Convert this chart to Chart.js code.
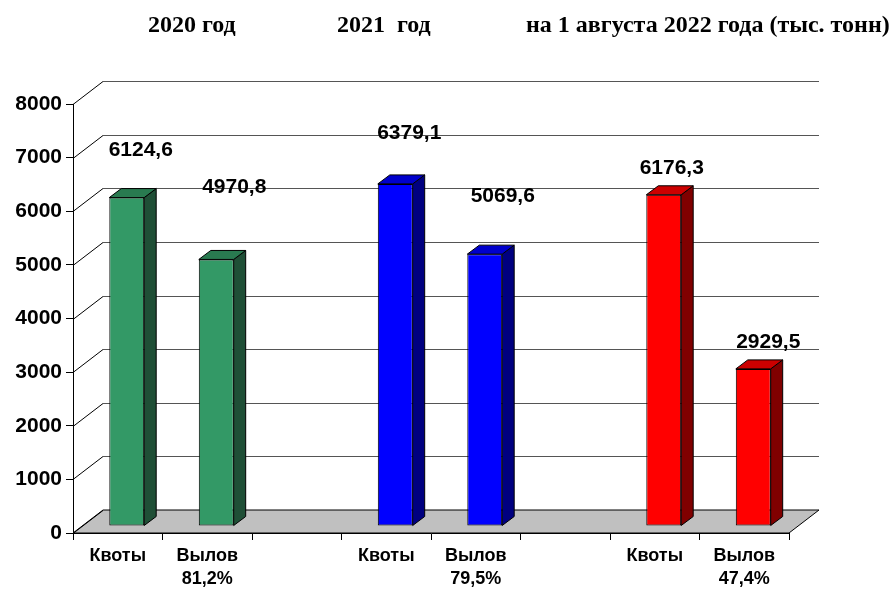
<!DOCTYPE html>
<html>
<head>
<meta charset="utf-8">
<script src="https://cdn.jsdelivr.net/npm/chart.js@4"></script>
<style>
html,body{margin:0;padding:0;background:#fff;}
#wrap{width:893px;height:589px;position:relative;}
</style>
</head>
<body>
<div id="wrap"><canvas id="c" width="893" height="589"></canvas></div>
<script>
// ---- data ----
const categories = [['Квоты'], ['Вылов', '81,2%'], '', ['Квоты'], ['Вылов', '79,5%'], '', ['Квоты'], ['Вылов', '47,4%']];
const values = [6124.6, 4970.8, null, 6379.1, 5069.6, null, 6176.3, 2929.5];
const yTicks = [0, 1000, 2000, 3000, 4000, 5000, 6000, 7000, 8000];
const titleParts = ['2020 год', '2021  год', 'на 1 августа 2022 года (тыс. тонн)'];

// ---- styles ----
const frontColors = ['#339966', '#339966', '#fff', '#0000FF', '#0000FF', '#fff', '#FF0000', '#FF0000'];
const topColors   = ['#297A50', '#297A50', '#fff', '#0000CC', '#0000CC', '#fff', '#CC0000', '#CC0000'];
const sideColors  = ['#1F4F36', '#1F4F36', '#fff', '#000080', '#000080', '#fff', '#800000', '#800000'];
const labelShift = [[14, -47], [18, -72], [0, 0], [14, -51], [18, -58], [0, 0], [8, -27], [15, -27]];
const titleX = [148, 337, 526];

const WALL_DX = 30, WALL_DY = -23;   // depth of chart floor/walls
const BAR_OX = 9, BAR_OY = -7;       // bar position inside depth
const BAR_DX = 12, BAR_DY = -9;      // bar depth

const threeD = {
  id: 'threeD',
  beforeDatasetsDraw(chart) {
    const ctx = chart.ctx, ca = chart.chartArea, ys = chart.scales.y;
    const y0 = ys.getPixelForValue(0);
    ctx.save();
    // floor
    ctx.beginPath();
    ctx.moveTo(ca.left, y0);
    ctx.lineTo(ca.right, y0);
    ctx.lineTo(ca.right + WALL_DX, y0 + WALL_DY);
    ctx.lineTo(ca.left + WALL_DX, y0 + WALL_DY);
    ctx.closePath();
    ctx.fillStyle = '#C0C0C0';
    ctx.fill();
    ctx.lineWidth = 1;
    ctx.strokeStyle = '#000';
    ctx.stroke();
    // back-wall gridlines and left-wall diagonals
    yTicks.forEach(v => {
      const y = Math.round(ys.getPixelForValue(v)) + 0.5;
      ctx.beginPath();
      ctx.strokeStyle = '#000';
      ctx.moveTo(ca.left, y);
      ctx.lineTo(ca.left + WALL_DX, y + WALL_DY);
      ctx.stroke();
      if (v > 0) {
        ctx.beginPath();
        ctx.strokeStyle = '#555';
        ctx.moveTo(ca.left + WALL_DX, y + WALL_DY);
        ctx.lineTo(ca.right + WALL_DX, y + WALL_DY);
        ctx.stroke();
      }
    });
    ctx.restore();
    ctx.save();
    ctx.translate(BAR_OX, BAR_OY);
  },
  afterDatasetsDraw(chart) {
    const ctx = chart.ctx;
    ctx.restore();
    const meta = chart.getDatasetMeta(0);
    ctx.save();
    ctx.translate(BAR_OX, BAR_OY);
    ctx.lineWidth = 1;
    ctx.strokeStyle = '#000';
    meta.data.forEach((bar, i) => {
      if (values[i] == null) return;
      const p = bar.getProps(['x', 'y', 'base', 'width'], true);
      const l = p.x - p.width / 2, r = p.x + p.width / 2;
      // side
      ctx.beginPath();
      ctx.moveTo(r, p.y);
      ctx.lineTo(r + BAR_DX, p.y + BAR_DY);
      ctx.lineTo(r + BAR_DX, p.base + BAR_DY);
      ctx.lineTo(r, p.base);
      ctx.closePath();
      ctx.fillStyle = sideColors[i];
      ctx.fill(); ctx.stroke();
      // top
      ctx.beginPath();
      ctx.moveTo(l, p.y);
      ctx.lineTo(l + BAR_DX, p.y + BAR_DY);
      ctx.lineTo(r + BAR_DX, p.y + BAR_DY);
      ctx.lineTo(r, p.y);
      ctx.closePath();
      ctx.fillStyle = topColors[i];
      ctx.fill(); ctx.stroke();
      // value label
      ctx.fillStyle = '#000';
      ctx.font = 'bold 21px "Liberation Sans", Arial, sans-serif';
      ctx.textAlign = 'center';
      ctx.textBaseline = 'middle';
      const txt = String(values[i]).replace('.', ',');
      ctx.fillText(txt, p.x + labelShift[i][0], p.y + labelShift[i][1]);
    });
    ctx.restore();
    // title
    ctx.save();
    ctx.fillStyle = '#000';
    ctx.font = 'bold 24px "Liberation Serif", "Times New Roman", serif';
    ctx.textBaseline = 'middle';
    ctx.textAlign = 'left';
    titleParts.forEach((t, i) => ctx.fillText(t, titleX[i], 26));
    ctx.restore();
  }
};

new Chart(document.getElementById('c'), {
  type: 'bar',
  data: {
    labels: categories,
    datasets: [{
      data: values,
      backgroundColor: frontColors,
      borderColor: '#000',
      borderWidth: 1,
      borderSkipped: false,
      barPercentage: 0.39,
      categoryPercentage: 1
    }]
  },
  options: {
    responsive: false,
    animation: false,
    events: [],
    layout: { padding: { top: 104, right: 104, left: 0, bottom: 0 } },
    plugins: { legend: { display: false }, tooltip: { enabled: false }, title: { display: false } },
    scales: {
      x: {
        offset: true,
        afterFit(s) { s.height = 56; },
        grid: { offset: true, drawOnChartArea: false, tickLength: 7, color: '#000' },
        border: { display: true, color: '#000' },
        ticks: {
          color: '#000', padding: 4, maxRotation: 0, autoSkip: false,
          font: { family: '"Liberation Sans", Arial, sans-serif', size: 18, weight: 'bold', lineHeight: 1.3 }
        }
      },
      y: {
        min: 0, max: 8000,
        afterFit(s) { s.width = 73; },
        afterBuildTicks(s) { s.ticks = yTicks.map(v => ({ value: v })); },
        grid: { drawOnChartArea: false, tickLength: 7, color: '#000' },
        border: { display: true, color: '#000' },
        ticks: {
          color: '#000', padding: 4,
          callback: (v) => String(v),
          font: { family: '"Liberation Sans", Arial, sans-serif', size: 21, weight: 'bold' }
        }
      }
    }
  },
  plugins: [threeD]
});
</script>
</body>
</html>
